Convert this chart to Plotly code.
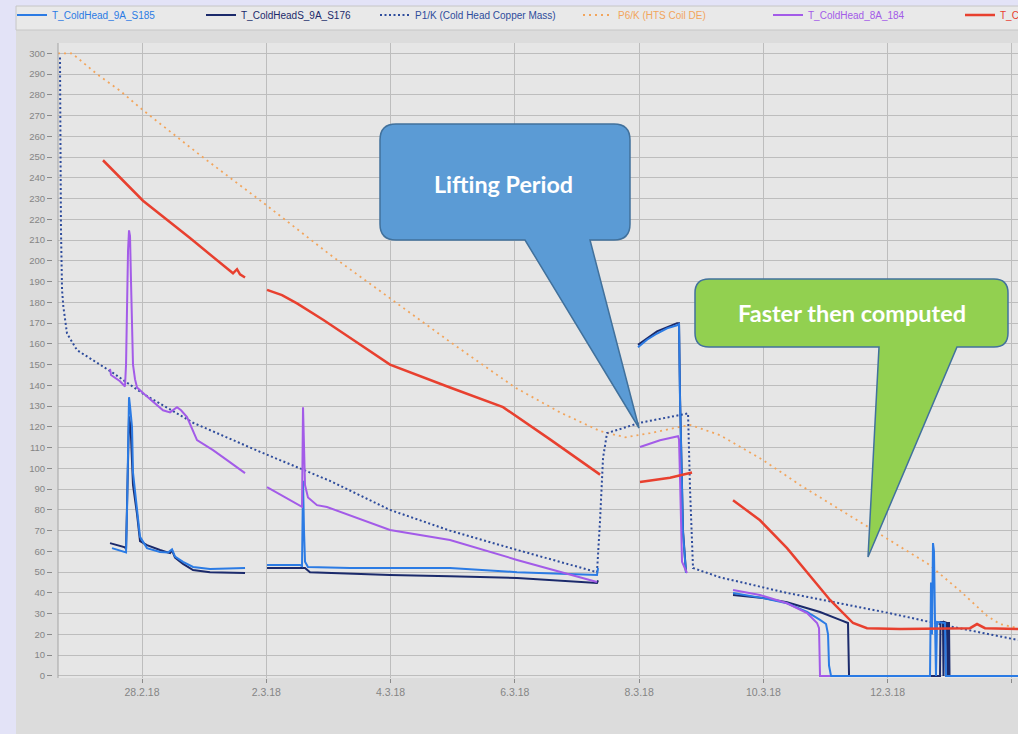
import plotly.graph_objects as go
from datetime import datetime, timedelta

DAY0 = datetime(2018, 2, 28)  # 28.2.18 00:00

# ---------------- data (time = days after 28.2.18 00:00, value = K) ----------------
# T_ColdHead_9A_S185 (blue)
blue_t = [-0.483, -0.290, -0.257, -0.241, -0.225, -0.209, -0.193, -0.177, -0.161, -0.145,
          -0.080, -0.032, 0.080, 0.290, 0.418, 0.483, 0.531, 0.660, 0.821, 1.094, 1.658, None,
          2.012, 2.543, 2.575, 2.591, 2.607, 2.623, 2.671, 3.347, 3.991, 4.956, 6.035, 7.322, 7.339, None,
          7.982, 8.127, 8.288, 8.449, 8.610, 8.642, 8.658, 8.706, 8.754, None,
          9.511, 9.994, 10.380, 10.702, 10.911, 11.008, 11.040, 11.056, 11.088, 12.681, 12.697,
          12.713, 12.729, 12.745, 12.761, 12.777, 12.794, 12.922, 12.938, 14.097]
blue_v = [61.6, 60, 59.5, 80, 115, 134.3, 130, 125, 120, 98,
          81, 67, 61.6, 59.7, 59.5, 61, 57.5, 55, 52.5, 51.5, 52, None,
          53.4, 53.4, 53, 94, 70, 55, 52.5, 52, 52, 52, 50, 48.6, 52, None,
          158.4, 162, 165, 167.5, 169, 169.5, 133, 69, 49.6, None,
          40, 37.5, 35, 30.8, 27, 25, 20, 5, 0, 0, 45,
          20, 64, 60, 27, 0, 26, 25.5, 0, 0]

# T_ColdHeadS_9A_S176 (dark navy)
navy_t = [-0.515, -0.306, -0.274, -0.257, -0.241, -0.225, -0.209, -0.193, -0.177, -0.145,
          -0.080, -0.032, 0.080, 0.290, 0.451, 0.483, 0.531, 0.660, 0.821, 1.094, 1.658, None,
          2.012, 2.543, 2.623, 2.703, 3.991, 4.956, 6.035, 7.322, 7.339, None,
          7.982, 8.288, 8.610, 8.642, 8.658, 8.706, 8.754, None,
          9.511, 9.994, 10.380, 10.911, 11.233, 11.361, 11.378, 12.842, 12.850, 12.890, 12.898,
          12.906, 12.954, 12.962, 12.971, 12.987, 12.995, 14.097]
navy_v = [64, 62, 62, 61, 80, 110, 125, 122, 115, 92,
          78, 65, 63, 60.7, 59.2, 60.5, 57, 54, 51, 50, 49.6, None,
          52, 52, 52, 50, 48.6, 48, 47.2, 44.8, 46, None,
          159.5, 166, 170, 170, 135, 70, 50, None,
          39, 37.5, 35.5, 30.8, 27, 25.5, 0, 0, 26, 26, 0,
          26, 25.5, 0, 25.5, 25.5, 0, 0]

# P1/K (Cold Head Copper Mass) - computed, dotted
p1_t = [-1.320, -1.312, -1.304, -1.287, -1.266, -1.207, -1.046, -0.676, -0.467, 0.016,
        0.821, 1.899, 3.025, 3.991, 4.956, 6.003, 6.727, 7.322, 7.371, 7.419, 7.483,
        8.014, 8.787, 8.819, 8.867, 9.302, 10.380, 11.989, 13.051, 14.097]
p1_v = [298, 253, 215, 186, 178, 165, 157, 150, 146, 136,
        122, 108, 94, 80, 70, 61, 55, 50, 75, 105, 117,
        122, 126.5, 90, 52, 47.5, 40, 30.5, 23.6, 17.3]

# P6/K (HTS Coil DE) - computed, dotted
p6_t = [-1.352, -1.126, -0.724, -0.354, 0.0, 0.933, 1.995, 3.025, 3.991, 4.956, 6.003,
        6.727, 7.371, 7.773, 8.175, 8.819, 9.302, 9.994, 10.589, 11.345, 11.989, 12.649,
        13.164, 13.598, 13.807, 14.097]
p6_v = [300, 300, 290, 282, 273, 251, 227, 203, 182, 161, 139,
        127, 118, 115, 117, 121, 116, 104, 92, 78, 66, 54,
        41, 29, 25, 23]

# T_ColdHead_8A_184 (purple)
purple_t = [-0.515, -0.499, -0.354, -0.274, -0.257, -0.241, -0.225, -0.209, -0.193, -0.177,
            -0.161, -0.145, -0.113, -0.080, 0.048, 0.338, 0.451, 0.563, 0.628, 0.724, 0.885,
            1.143, 1.368, 1.658, None,
            2.012, 2.494, 2.575, 2.591, 2.607, 2.623, 2.671, 2.816, 2.977, 3.991, 4.956, 6.035, 7.322, None,
            8.014, 8.336, 8.626, 8.642, 8.658, 8.674, 8.690, 8.770, None,
            9.511, 9.945, 10.380, 10.702, 10.863, 10.895, 10.911, 11.072]
purple_v = [148, 145, 142, 139.5, 150, 185, 205, 214.7, 212, 190,
            168, 150, 143, 139, 135.5, 128, 127, 129.5, 128, 124.7, 113.6,
            108.8, 104, 97.7, None,
            91, 83, 81.5, 129.5, 105, 92, 86, 82.3, 81.4, 70.3, 65.5, 55.9, 45.3, None,
            110.3, 113.6, 115.5, 114, 95, 70, 55, 49.6, None,
            41.4, 39, 35, 30.3, 25.5, 23, 0, 0]

# T_C... (red, name cut off at image edge)
red_t = [-0.628, 0.016, 0.772, 1.464, 1.529, 1.577, 1.658, None,
         2.012, 2.253, 2.494, 2.920, 3.347, 3.991, 4.956, 5.810, 6.566, 7.371, None,
         8.014, 8.497, 8.851, None,
         9.511, 9.945, 10.380, 10.750, 11.072, 11.442, 11.667, 12.198, 13.325, 13.438, 13.566, 14.097]
red_v = [248.5, 229, 211, 194, 196, 193.5, 192, None,
         186, 183.5, 179.5, 171.5, 163, 150, 139, 129.5, 114, 97, None,
         93.5, 95.5, 98, None,
         84.7, 75, 61.6, 48, 36.6, 25.5, 23, 22.6, 23, 25, 23, 22.6]

tick_days = [0, 2, 4, 6, 8, 10, 12, 14]
tick_text = ["28.2.18", "2.3.18", "4.3.18", "6.3.18", "8.3.18", "10.3.18", "12.3.18", "14.3.18"]
x_range_days = [-1.352, 14.097]


def to_dt(days):
    return [None if d is None else DAY0 + timedelta(days=d) for d in days]


# ---------------- styles ----------------
C_BLUE = "#2B7BE4"
C_NAVY = "#1B2A6B"
C_P1 = "#2E4C9C"
C_P6 = "#F2A55C"
C_PURPLE = "#A35BE8"
C_RED = "#E8402F"


def lname(text, color):
    return f"<span style='color:{color}'>{text}</span>"


fig = go.Figure()

# legendwidth values give the spacing of the legend row
fig.add_trace(go.Scatter(x=to_dt(p6_t), y=p6_v, mode="lines", connectgaps=False,
                         name=lname("P6/K (HTS Coil DE)", C_P6), legendrank=4, legendwidth=145,
                         line=dict(color=C_P6, width=1.8, dash="2px,4px")))
fig.add_trace(go.Scatter(x=to_dt(p1_t), y=p1_v, mode="lines", connectgaps=False,
                         name=lname("P1/K (Cold Head Copper Mass)", C_P1), legendrank=3, legendwidth=158,
                         line=dict(color=C_P1, width=2, dash="2px,2.5px")))
fig.add_trace(go.Scatter(x=to_dt(navy_t), y=navy_v, mode="lines", connectgaps=False,
                         name=lname("T_ColdHeadS_9A_S176", C_NAVY), legendrank=2, legendwidth=129,
                         line=dict(color=C_NAVY, width=2)))
fig.add_trace(go.Scatter(x=to_dt(blue_t), y=blue_v, mode="lines", connectgaps=False,
                         name=lname("T_ColdHead_9A_S185", C_BLUE), legendrank=1, legendwidth=144,
                         line=dict(color=C_BLUE, width=2)))
fig.add_trace(go.Scatter(x=to_dt(purple_t), y=purple_v, mode="lines", connectgaps=False,
                         name=lname("T_ColdHead_8A_184", C_PURPLE), legendrank=5, legendwidth=147,
                         line=dict(color=C_PURPLE, width=2)))
fig.add_trace(go.Scatter(x=to_dt(red_t), y=red_v, mode="lines", connectgaps=False,
                         name=lname("T_ColdHeadS_8A_S183", C_RED), legendrank=6, legendwidth=20,
                         line=dict(color=C_RED, width=2.5)))

# ---------------- layout geometry (pixels) ----------------
W, H = 1018, 734
ML, MR, MT, MB = 58, 0, 43, 56
PW, PH = W - ML - MR, H - MT - MB


def px(x):
    return (x - ML) / PW


def py(y):
    return (H - MB - y) / PH


def callout_path(x0, y0, x1, y1, r, bx0, bx1, tx, ty):
    rx, ry = r, r
    pts = [
        ("M", (x0 + rx, y0)), ("L", (x1 - rx, y0)), ("Q", (x1, y0), (x1, y0 + ry)),
        ("L", (x1, y1 - ry)), ("Q", (x1, y1), (x1 - rx, y1)), ("L", (bx1, y1)),
        ("L", (tx, ty)), ("L", (bx0, y1)), ("L", (x0 + rx, y1)),
        ("Q", (x0, y1), (x0, y1 - ry)), ("L", (x0, y0 + ry)), ("Q", (x0, y0), (x0 + rx, y0)),
    ]
    s = ""
    for item in pts:
        cmd = item[0]
        coords = " ".join(f"{px(a):.5f},{py(b):.5f}" for a, b in item[1:])
        s += f"{cmd} {coords} "
    return s + "Z"


shapes = [
    # lavender outer strips (left and top)
    dict(type="rect", xref="paper", yref="paper", x0=px(-2), x1=px(16), y0=py(H + 2), y1=py(-2),
         fillcolor="#E3E3F7", line=dict(width=0), layer="below"),
    dict(type="rect", xref="paper", yref="paper", x0=px(-2), x1=px(W + 2), y0=py(6), y1=py(-2),
         fillcolor="#E3E3F7", line=dict(width=0), layer="below"),
    # legend bar
    dict(type="rect", xref="paper", yref="paper", x0=px(16), x1=px(W + 2), y0=py(30), y1=py(6),
         fillcolor="#E9E9E9", line=dict(color="#C6C6C6", width=1), layer="below"),
    # left frame line of the plot area
    dict(type="line", xref="paper", yref="paper", x0=0, x1=0, y0=0, y1=1,
         line=dict(color="#A4A4A4", width=1), layer="above"),
    # callouts
    dict(type="path", xref="paper", yref="paper", layer="above",
         path=callout_path(380, 124, 630, 240, 16, 525, 590, 639, 428),
         fillcolor="#5B9BD5", line=dict(color="#41719C", width=1.5)),
    dict(type="path", xref="paper", yref="paper", layer="above",
         path=callout_path(695, 279, 1008, 347, 14, 879, 957, 868, 557),
         fillcolor="#92D050", line=dict(color="#41719C", width=1.5)),
]

annotations = [
    dict(text="Lifting Period", xref="paper", yref="paper", x=px(503), y=py(184),
         showarrow=False, xanchor="center", yanchor="middle",
         font=dict(family="Lato", size=23.3, color="white", weight="bold")),
    dict(text="Faster then computed", xref="paper", yref="paper", x=px(852), y=py(313),
         showarrow=False, xanchor="center", yanchor="middle",
         font=dict(family="Lato", size=23.5, color="white", weight="bold")),
]

fig.update_layout(
    width=W, height=H,
    margin=dict(l=ML, r=MR, t=MT, b=MB, autoexpand=False),
    paper_bgcolor="#DCDCDC",
    plot_bgcolor="#E6E6E6",
    shapes=shapes,
    annotations=annotations,
    hovermode=False,
    showlegend=True,
    legend=dict(orientation="h", x=px(12), xanchor="left", y=py(15), yanchor="middle",
                bgcolor="rgba(0,0,0,0)", borderwidth=0,
                font=dict(family="Liberation Sans, Arial", size=10),
                entrywidthmode="pixels", itemwidth=30,
                traceorder="normal"),
    xaxis=dict(type="date", range=to_dt(x_range_days),
               tickvals=to_dt(tick_days), ticktext=tick_text,
               showgrid=True, gridcolor="#BDBDBD", gridwidth=1,
               ticks="outside", ticklen=4, tickcolor="#8A8A8A",
               tickfont=dict(family="Liberation Sans, Arial", size=10.5, color="#858585"),
               zeroline=False, showline=False),
    yaxis=dict(range=[-1, 305], tick0=0, dtick=10,
               showgrid=True, gridcolor="#BDBDBD", gridwidth=1,
               ticks="outside", ticklen=5, tickcolor="#8A8A8A",
               tickfont=dict(family="Liberation Sans, Arial", size=9.5, color="#858585"),
               zeroline=False, showline=False,
               anchor="free", position=0, shift=-6),
)

fig.write_html("out.html")
